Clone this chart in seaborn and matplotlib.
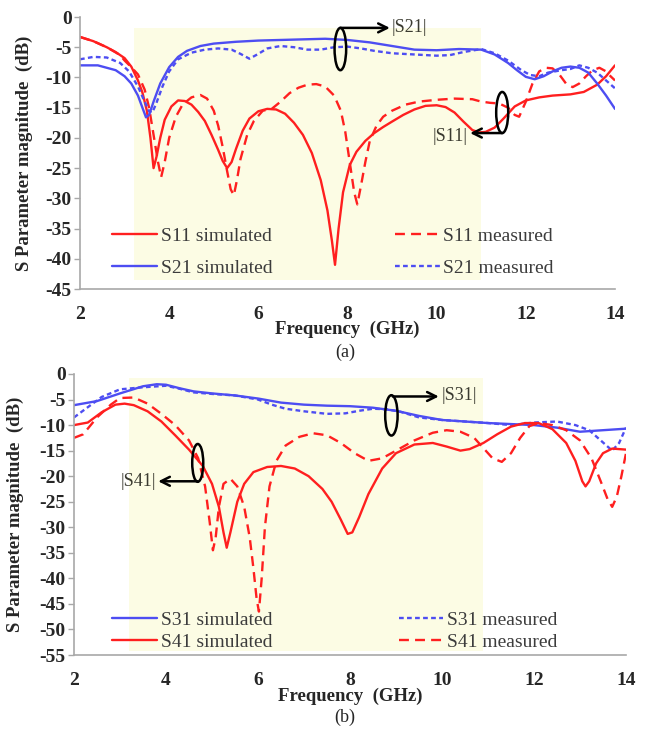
import numpy as np
import pandas as pd
import matplotlib
matplotlib.use("Agg")
import matplotlib.pyplot as plt
from matplotlib.patches import Ellipse
import seaborn as sns

# ---------------- data: panel (a) ----------------
s11_sim_f = [2.0, 2.3, 2.6, 2.8, 3.0, 3.15, 3.3, 3.4, 3.5, 3.58, 3.65, 3.72, 3.8, 3.9, 4.05, 4.2, 4.35, 4.5,
             4.65, 4.8, 4.95, 5.1, 5.2, 5.3, 5.4, 5.5, 5.65, 5.8, 6.0, 6.2, 6.4, 6.6, 6.8, 7.0, 7.2, 7.4, 7.55,
             7.65, 7.72, 7.8, 7.9, 8.05, 8.2, 8.4, 8.6, 8.8, 9.0, 9.25, 9.5, 9.75, 10.0, 10.2, 10.4, 10.6, 10.8,
             10.95, 11.1, 11.3, 11.5, 11.75, 12.0, 12.3, 12.6, 13.0, 13.3, 13.6, 13.8, 14.0]
s11_sim_db = [-3.3, -4.0, -5.0, -5.8, -6.8, -8.2, -10.5, -12.5, -15.5, -20, -25, -23, -20, -17, -14.8, -13.8,
              -13.9, -14.5, -15.7, -17.2, -19.5, -22, -23.8, -25, -24, -21.8, -18.8, -16.8, -15.6, -15.2, -15.3,
              -16.0, -17.5, -19.5, -22.5, -27, -32, -37, -41, -35, -29, -24.5, -22.3, -20.5, -19.2, -18.2, -17.3,
              -16.2, -15.3, -14.7, -14.6, -14.9, -15.8, -17.3, -18.7, -19.1, -19.0, -18.3, -16.8, -14.8, -13.8,
              -13.3, -13.0, -12.8, -12.4, -11.2, -9.8, -8.0]

s11_meas_f = [2.0, 2.3, 2.6, 2.9, 3.0, 3.15, 3.3, 3.45, 3.55, 3.65, 3.75, 3.82, 3.9, 4.0, 4.15, 4.3, 4.5, 4.7,
              4.85, 5.0, 5.1, 5.2, 5.3, 5.38, 5.45, 5.52, 5.6, 5.75, 5.9, 6.1, 6.3, 6.5, 6.7, 6.9, 7.1, 7.3, 7.5,
              7.7, 7.85, 7.95, 8.05, 8.15, 8.22, 8.3, 8.4, 8.5, 8.65, 8.8, 9.0, 9.3, 9.6, 10.0, 10.4, 10.8, 11.0,
              11.2, 11.4, 11.6, 11.75, 11.85, 12.0, 12.15, 12.3, 12.45, 12.6, 12.75, 12.9, 13.05, 13.2, 13.35,
              13.5, 13.65, 13.8, 13.9, 14.0]
s11_meas_db = [-3.3, -4.0, -5.0, -6.3, -7.2, -8.3, -9.5, -12, -15, -19.5, -24, -26.5, -24, -20, -16.5, -14.5,
               -13.3, -12.9, -13.5, -15.5, -18, -21.5, -25.5, -28.5, -29.5, -27, -23.5, -19.5, -17.2, -15.5,
               -15.2, -14, -12.6, -11.7, -11.2, -11.1, -11.5, -13, -15.5, -19, -24, -29, -31, -28, -24, -20.5,
               -18, -16.5, -15.5, -14.5, -14, -13.7, -13.5, -13.6, -14, -14.2, -14.3, -15, -16.2, -16.5, -14,
               -11, -9, -8.4, -8.5, -9.5, -11, -11.6, -11, -9.8, -8.8, -8.4, -9, -9.8, -10.5]

s21_sim_f = [2.0, 2.4, 2.8, 3.0, 3.15, 3.3, 3.4, 3.48, 3.55, 3.65, 3.8, 4.0, 4.2, 4.4, 4.7, 5.0, 5.5, 6.0, 6.5,
             7.0, 7.5, 8.0, 8.5, 9.0, 9.5, 10.0, 10.5, 11.0, 11.3, 11.6, 11.8, 12.0, 12.2, 12.4, 12.6, 12.8,
             13.0, 13.2, 13.4, 13.6, 13.8, 14.0]
s21_sim_db = [-8.0, -8.0, -8.8, -9.8, -11, -13, -15, -16.6, -16.2, -14, -11, -8.3, -6.6, -5.6, -4.8, -4.4, -4.1,
              -3.9, -3.8, -3.7, -3.6, -3.8, -4.2, -4.8, -5.4, -5.5, -5.3, -5.4, -6.2, -7.6, -8.8, -9.9, -10.3,
              -9.8, -9.0, -8.4, -8.2, -8.4, -9.2, -11.0, -13.0, -15.2]

s21_meas_f = [2.0, 2.3, 2.6, 2.9, 3.1, 3.3, 3.45, 3.55, 3.62, 3.7, 3.85, 4.0, 4.2, 4.5, 4.8, 5.1, 5.4, 5.6, 5.8,
              6.0, 6.2, 6.5, 6.8, 7.1, 7.4, 7.7, 8.0, 8.3, 8.6, 9.0, 9.5, 10.0, 10.3, 10.6, 11.0, 11.3, 11.6,
              11.9, 12.1, 12.3, 12.5, 12.8, 13.0, 13.2, 13.4, 13.6, 13.8, 14.0]
s21_meas_db = [-7.0, -6.6, -6.7, -7.6, -9, -11.5, -14, -15.6, -15.8, -14.5, -11.5, -9, -7, -5.9, -5.4, -5.2,
               -5.4, -6.1, -6.9, -6.1, -5.2, -4.8, -5.0, -5.4, -5.4, -5.0, -4.9, -5.2, -5.6, -6.0, -6.2, -6.4,
               -6.3, -5.8, -5.3, -6.0, -7.2, -8.8, -9.6, -9.8, -9.2, -8.8, -8.6, -8.0, -8.4, -9.2, -10.5, -11.8]

# ---------------- data: panel (b) ----------------
s31_sim_f = [2.0, 2.5, 3.0, 3.5, 3.8, 4.0, 4.3, 4.6, 5.0, 5.5, 6.0, 6.5, 7.0, 7.5, 8.0, 8.5, 9.0, 9.5, 10.0,
             10.5, 11.0, 11.5, 12.0, 12.5, 13.0, 13.5, 14.0]
s31_sim_db = [-6.1, -5.3, -3.8, -2.4, -2.0, -2.1, -2.8, -3.4, -3.8, -4.2, -4.8, -5.6, -6.0, -6.2, -6.3, -6.6,
              -7.2, -8.2, -9.0, -9.3, -9.6, -9.8, -10.0, -10.5, -11.3, -11.0, -10.7]

s31_meas_f = [2.0, 2.3, 2.6, 3.0, 3.5, 4.0, 4.3, 4.6, 5.0, 5.5, 6.0, 6.3, 6.6, 7.0, 7.5, 7.9, 8.2, 8.5, 8.8,
              9.1, 9.5, 10.0, 10.5, 11.0, 11.5, 12.0, 12.5, 12.9, 13.2, 13.45, 13.7, 13.85, 14.0]
s31_meas_db = [-8.5, -6.5, -4.5, -3.0, -2.6, -2.3, -2.9, -3.6, -3.9, -4.2, -5.0, -6.0, -6.8, -7.3, -7.8, -7.7,
               -7.2, -6.8, -6.9, -7.4, -8.5, -9.0, -9.3, -9.6, -10.0, -9.5, -9.3, -10.0, -11.0, -13.0, -15.0,
               -13.5, -10.5]

s41_sim_f = [2.0, 2.3, 2.6, 2.9, 3.1, 3.3, 3.6, 3.9, 4.2, 4.5, 4.8, 5.0, 5.15, 5.25, 5.32, 5.4, 5.55, 5.7, 5.9,
             6.2, 6.5, 6.8, 7.1, 7.4, 7.6, 7.8, 7.95, 8.05, 8.2, 8.4, 8.7, 9.0, 9.4, 9.8, 10.1, 10.4, 10.6,
             10.9, 11.2, 11.5, 11.8, 12.1, 12.4, 12.7, 12.9, 13.05, 13.12, 13.2, 13.35, 13.5, 13.7, 14.0]
s41_sim_db = [-10, -9.5, -7.5, -6.0, -5.8, -6.1, -7.3, -9.3, -12, -14.8, -18, -21.5, -26, -31, -34, -31, -25,
              -21.5, -19.2, -18.2, -18.0, -18.5, -20, -22.5, -25, -28.5, -31.3, -31, -28, -23.5, -18.5, -15.5,
              -13.8, -13.5, -14.2, -15, -14.7, -13.5, -11.8, -10.3, -9.6, -9.6, -10.8, -13.5, -17, -21, -22,
              -21, -17.5, -15.5, -14.6, -14.8]

s41_meas_f = [2.0, 2.2, 2.5, 2.8, 3.0, 3.3, 3.6, 3.9, 4.2, 4.5, 4.7, 4.85, 4.95, 5.02, 5.08, 5.15, 5.25, 5.4,
              5.55, 5.7, 5.82, 5.9, 5.97, 6.02, 6.08, 6.15, 6.25, 6.4, 6.6, 6.9, 7.2, 7.5, 7.8, 8.1, 8.4, 8.7,
              9.0, 9.4, 9.8, 10.1, 10.4, 10.7, 10.9, 11.1, 11.3, 11.5, 11.7, 11.9, 12.1, 12.4, 12.7, 13.0,
              13.25, 13.45, 13.6, 13.7, 13.8, 13.9, 14.0]
s41_meas_db = [-12.5, -11.8, -8.5, -6.0, -4.7, -4.6, -5.8, -7.8, -10.0, -13.0, -16.5, -22, -29, -34.5, -32, -26,
               -21.5, -20.5, -22, -26, -32, -38, -44, -46.5, -40, -30, -22, -17, -14, -12.3, -11.6, -12, -13.5,
               -15.5, -17, -16.5, -15, -13, -11.5, -11, -11.3, -12.5, -14.5, -16.5, -17.2, -15.5, -12.5, -10.2,
               -9.6, -10, -11, -13, -16.5, -21, -24.5, -26, -24, -20, -15.5]

labels_a = ["S11 simulated", "S21 simulated", "S11 measured", "S21 measured"]
labels_b = ["S31 simulated", "S41 simulated", "S31 measured", "S41 measured"]
xticks = [2, 4, 6, 8, 10, 12, 14]
yticks_a = [0, -5, -10, -15, -20, -25, -30, -35, -40, -45]
yticks_b = [0, -5, -10, -15, -20, -25, -30, -35, -40, -45, -50, -55]

# ---------------- style ----------------
sns.set_style("white")
plt.rcParams["font.family"] = ["Liberation Serif", "DejaVu Serif"]

RED = "#ff1f1f"
BLUE = "#4d4df2"
SHADE = "#fcfce4"
ANN = "#3a3a30"
LW = 1.7
RED_DASH = (4.2, 2.6)
BLUE_DASH = (2.0, 1.4)

W, H = 646, 731
fig = plt.figure(figsize=(W / 100, H / 100), dpi=100)
ax1 = fig.add_axes([80 / W, 1 - 289 / H, 535 / W, 272 / H])
ax2 = fig.add_axes([74 / W, 1 - 655 / H, 552 / W, 281 / H])


def draw(ax, f, db, color, dash, label):
    sns.lineplot(x=f, y=db, ax=ax, color=color, lw=LW, sort=False, estimator=None, label=label, legend=False)
    ln = ax.lines[-1]
    if dash is not None:
        ln.set_dashes(dash)
    return ln


def style_axes(ax, yticks):
    ax.set_xlim(2, 14)
    ax.set_ylim(yticks[-1], 0)
    ax.set_xticks(xticks)
    ax.set_yticks(yticks)
    ax.set_xticklabels([str(t) for t in xticks], fontsize=14, fontweight="bold")
    ax.set_yticklabels([str(t) for t in yticks], fontsize=14, fontweight="bold")
    for s in ["top", "right"]:
        ax.spines[s].set_visible(False)
    for s in ["left", "bottom"]:
        ax.spines[s].set_color("#a8a8a8")
        ax.spines[s].set_linewidth(1.2)
    ax.tick_params(axis="y", length=4, width=1.0, color="#a8a8a8", pad=2, direction="out", left=True)
    ax.tick_params(axis="x", length=0, pad=12)
    ax.set_facecolor("white")
    ax.set_xlabel("Frequency  (GHz)", fontsize=13.5, fontweight="bold")
    ax.set_ylabel("S Parameter magnitude  (dB)", fontsize=13.5, fontweight="bold")


def ring(ax, cx, cy, w, h, start, end, text, text_xy, ha):
    ax.add_patch(Ellipse((cx, cy), w, h, fill=False, ec="black", lw=1.8, zorder=6))
    ax.annotate("", xy=end, xytext=start,
                arrowprops=dict(arrowstyle="->", color="black", lw=1.8, mutation_scale=16,
                                shrinkA=0, shrinkB=0), zorder=6)
    ax.text(text_xy[0], text_xy[1], text, ha=ha, va="center", fontsize=13, color=ANN, zorder=6)


# ---------------- panel (a) ----------------
ax1.axvspan(3.2, 11.0, ymin=0.033, ymax=0.958, color=SHADE, lw=0, zorder=0)
l1 = draw(ax1, s11_sim_f, s11_sim_db, RED, None, labels_a[0])
l3 = draw(ax1, s11_meas_f, s11_meas_db, RED, RED_DASH, labels_a[2])
l2 = draw(ax1, s21_sim_f, s21_sim_db, BLUE, None, labels_a[1])
l4 = draw(ax1, s21_meas_f, s21_meas_db, BLUE, BLUE_DASH, labels_a[3])
style_axes(ax1, yticks_a)
leg = ax1.legend([l1, l2, l3, l4], labels_a, ncol=2, loc="upper left", bbox_to_anchor=(0.06, 0.226),
                 frameon=False, fontsize=14, handlelength=2.3, handletextpad=0.2, columnspacing=6.3,
                 labelspacing=0.72, borderaxespad=0, borderpad=0)
for t in leg.get_texts():
    t.set_color("#3c3c3c")
ring(ax1, 7.84, -5.3, 0.26, 7.0, (7.84, -1.8), (8.95, -1.8), "|S21|", (9.0, -1.8), "left")
ring(ax1, 11.47, -15.8, 0.27, 6.8, (11.47, -19.2), (10.75, -19.2), "|S11|", (10.7, -19.8), "right")
ax1.yaxis.set_label_coords(-0.088, 0.5)
ax1.xaxis.set_label_coords(0.5, -0.118)
fig.text(345 / W, 1 - 352 / H, "(a)", ha="center", va="center", fontsize=13)

# ---------------- panel (b) ----------------
ax2.axvspan(3.2, 10.9, ymin=0.016, ymax=0.984, color=SHADE, lw=0, zorder=0)
m1 = draw(ax2, s31_sim_f, s31_sim_db, BLUE, None, labels_b[0])
m3 = draw(ax2, s31_meas_f, s31_meas_db, BLUE, BLUE_DASH, labels_b[2])
m2 = draw(ax2, s41_sim_f, s41_sim_db, RED, None, labels_b[1])
m4 = draw(ax2, s41_meas_f, s41_meas_db, RED, RED_DASH, labels_b[3])
style_axes(ax2, yticks_b)
leg2 = ax2.legend([m1, m2, m3, m4], labels_b, ncol=2, loc="upper left", bbox_to_anchor=(0.069, 0.155),
                  frameon=False, fontsize=14, handlelength=2.3, handletextpad=0.2, columnspacing=6.5,
                  labelspacing=0.2, borderaxespad=0, borderpad=0)
for t in leg2.get_texts():
    t.set_color("#3c3c3c")
ring(ax2, 8.9, -8.1, 0.27, 7.9, (8.93, -4.4), (9.93, -4.4), "|S31|", (10.0, -4.3), "left")
ring(ax2, 4.69, -17.4, 0.24, 7.4, (4.69, -21.0), (3.83, -21.0), "|S41|", (3.78, -21.0), "right")
ax2.yaxis.set_label_coords(-0.09, 0.5)
ax2.xaxis.set_label_coords(0.5, -0.115)
fig.text(345 / W, 1 - 717 / H, "(b)", ha="center", va="center", fontsize=13)

fig.savefig("out.png", dpi=100, facecolor="white")
